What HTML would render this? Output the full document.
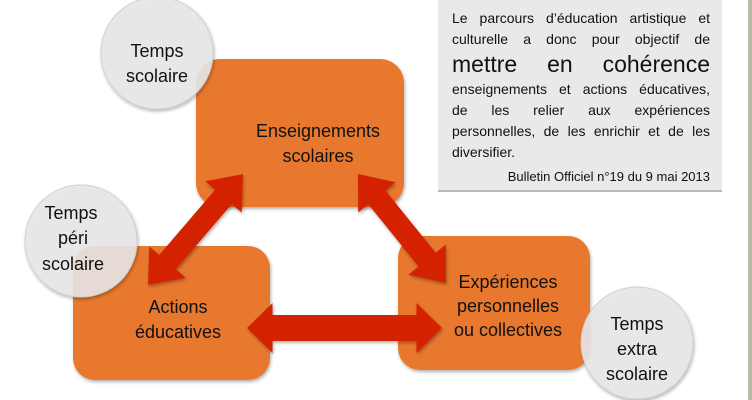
<!DOCTYPE html>
<html><head><meta charset="utf-8"><style>
html,body{margin:0;padding:0;background:#fff;}
body{width:752px;height:400px;position:relative;overflow:hidden;font-family:"Liberation Sans",sans-serif;}
.tb{position:absolute;left:438px;top:0;width:284px;height:192px;background:#e9e9e9;border-bottom:2px solid #b8b8b8;box-sizing:border-box;padding:8px 12px 0 14px;font-size:14px;line-height:21px;color:#111;}
.tb p{margin:0;text-align:justify;text-align-last:justify;}
.big{font-size:23px;line-height:29px;}
.src{text-align:right;font-size:13px;margin-top:3px;}
</style></head><body>
<div style="position:absolute;right:0;top:0;width:4px;height:400px;background:#b9b9a8"></div>
<div class="tb">
<p>Le parcours d’éducation artistique et</p>
<p>culturelle a donc pour objectif de</p>
<p class="big">mettre en cohérence</p>
<p>enseignements et actions éducatives,</p>
<p>de les relier aux expériences</p>
<p>personnelles, de les enrichir et de les</p>
<p style="text-align-last:left">diversifier.</p>
<div class="src">Bulletin Officiel n°19 du 9 mai 2013</div>
</div>
<svg width="752" height="400" style="position:absolute;left:0;top:0" font-family="Liberation Sans, sans-serif">
<defs><filter id="sh" x="-20%" y="-20%" width="140%" height="140%"><feDropShadow dx="1" dy="2" stdDeviation="1.5" flood-opacity="0.3"/></filter></defs>
<rect x="196" y="59" width="208" height="148" rx="24" fill="#e8782e" filter="url(#sh)"/>
<rect x="73" y="246" width="197" height="134" rx="22" fill="#e8782e" filter="url(#sh)"/>
<rect x="398" y="236" width="192" height="134" rx="22" fill="#e8782e" filter="url(#sh)"/>
<g fill="#111" font-size="18" text-anchor="middle">
<text x="318" y="137">Enseignements</text><text x="318" y="162">scolaires</text>
<text x="178" y="313">Actions</text><text x="178" y="338">éducatives</text>
<text x="508" y="288">Expériences</text><text x="508" y="312">personnelles</text><text x="508" y="336">ou collectives</text>
</g>
<g fill="#d42200" filter="url(#sh)">
<polygon transform="translate(195.5,229.5) rotate(130.6)" points="-73,0 -43,-24 -43,-11 43,-11 43,-24 73,0 43,24 43,11 -43,11 -43,24"/>
<polygon transform="translate(402,228.5) rotate(51.1)" points="-70,0 -40,-24 -40,-11 40,-11 40,-24 70,0 40,24 40,11 -40,11 -40,24"/>
<polygon transform="translate(344.5,328)" points="-97.5,0 -72,-25 -72,-13 72,-13 72,-25 97.5,0 72,25 72,13 -72,13 -72,25"/>
</g>
<g fill="#e8e8e8" fill-opacity="0.88" stroke="#d0d0d0" stroke-width="1" filter="url(#sh)">
<circle cx="157" cy="53" r="56"/>
<circle cx="81" cy="241" r="56"/>
<circle cx="637" cy="343" r="56"/>
</g>
<g fill="#111" font-size="18" text-anchor="middle">
<text x="157" y="57">Temps</text><text x="157" y="82">scolaire</text>
<text x="71" y="219">Temps</text><text x="73" y="244">péri</text><text x="73" y="270">scolaire</text>
<text x="637" y="330">Temps</text><text x="637" y="355">extra</text><text x="637" y="380">scolaire</text>
</g>
</svg>
</body></html>
